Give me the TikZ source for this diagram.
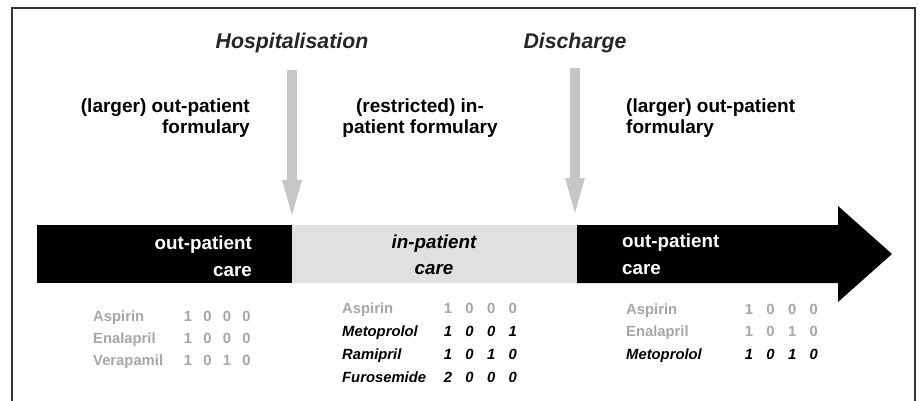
\documentclass[tikz,border=0pt]{standalone}
\usepackage{fontspec}
\setmainfont{Liberation Sans}
\usepackage{tikz}
\usetikzlibrary{arrows.meta}
\tikzset{
every node/.style={inner sep=0pt},
frameline/.style={draw=black!80, line width=1.6pt},
eventlbl/.style={font=\bfseries\itshape\fontsize{21.3}{24}\selectfont, text=black!85},
formlbl/.style={font=\bfseries\fontsize{19}{21.5}\selectfont},
carelbl/.style={font=\bfseries\fontsize{18.8}{27}\selectfont, text=white},
drugoff/.style={font=\bfseries\fontsize{14.8}{17}\selectfont, text=gray!70},
drugon/.style={font=\bfseries\itshape\fontsize{14.8}{17}\selectfont, text=black},
flowarrow/.style={draw=gray!45, line width=10pt, -{Triangle[width=20pt,length=35pt,line width=0pt]}}}

\begin{document}
\begin{tikzpicture}[x=1pt,y=-1pt]

                \useasboundingbox (0,0) rectangle (920,401);
                \draw[frameline] (12,401) -- (12,8) -- (915,8) -- (915,401);

                % time line
                \fill[black] (37,225) rectangle (292,283);
                \fill[gray!24] (292,225) rectangle (577,283);
                \fill[black] (577,225) -- (838,225) -- (838,206) -- (892,254) -- (838,302) -- (838,283) -- (577,283) -- cycle;

                \node[eventlbl] (hosp) at (292,43) {Hospitalisation};
                \node[eventlbl] (disch) at (575,43) {Discharge};
                \coordinate (hospend) at (292,215);
                \coordinate (dischend) at (575,213);
                \draw[flowarrow] (hosp) ++(0,27) -- (hospend);
                \draw[flowarrow] (disch) ++(0,25) -- (dischend);

                \node[formlbl, align=right, anchor=east] (formA) at (250,118) {(larger) out-patient\\formulary};
                \node[formlbl, align=center] (formB) at (420,118) {(restricted) in-\\patient formulary};
                \node[formlbl, align=left, anchor=west] (formC) at (626,118) {(larger) out-patient\\formulary};

                \node[carelbl, align=right, anchor=east] (careA) at (252,256) {out-patient\\care};
                \node[carelbl, align=center, text=black, font=\bfseries\itshape\fontsize{18.8}{26}\selectfont] (careB) at (434,255) {in-patient\\care};
                \node[carelbl, align=left, anchor=west] (careC) at (622,254) {out-patient\\care};

                % drug lists
                \foreach \st/\drug/\a/\b/\c/\d [count=\i] in {drugoff/Aspirin/1/0/0/0, drugoff/Enalapril/1/0/0/0, drugoff/Verapamil/1/0/1/0} {
                    \node[\st, anchor=base west] (L\i) at (93,300+21.7*\i) {\drug};
                    \foreach \v [count=\k] in {\a,\b,\c,\d}
                        \node[\st, anchor=base] (L\i-\k) at (168.5+19.5*\k,300+21.7*\i) {\v};
                }
                \foreach \st/\drug/\a/\b/\c/\d [count=\i] in {drugoff/Aspirin/1/0/0/0, drugon/Metoprolol/1/0/0/1, drugon/Ramipril/1/0/1/0, drugon/Furosemide/2/0/0/0} {
                    \node[\st, anchor=base west] (M\i) at (342,290+23*\i) {\drug};
                    \foreach \v [count=\k] in {\a,\b,\c,\d}
                        \node[\st, anchor=base] (M\i-\k) at (426.4+21.6*\k,290+23*\i) {\v};
                }
                \foreach \st/\drug/\a/\b/\c/\d [count=\i] in {drugoff/Aspirin/1/0/0/0, drugoff/Enalapril/1/0/1/0, drugon/Metoprolol/1/0/1/0} {
                    \node[\st, anchor=base west] (R\i) at (626,291.5+22.5*\i) {\drug};
                    \foreach \v [count=\k] in {\a,\b,\c,\d}
                        \node[\st, anchor=base] (R\i-\k) at (727.4+21.6*\k,291.5+22.5*\i) {\v};
                }

            \end{tikzpicture}
\end{document}
